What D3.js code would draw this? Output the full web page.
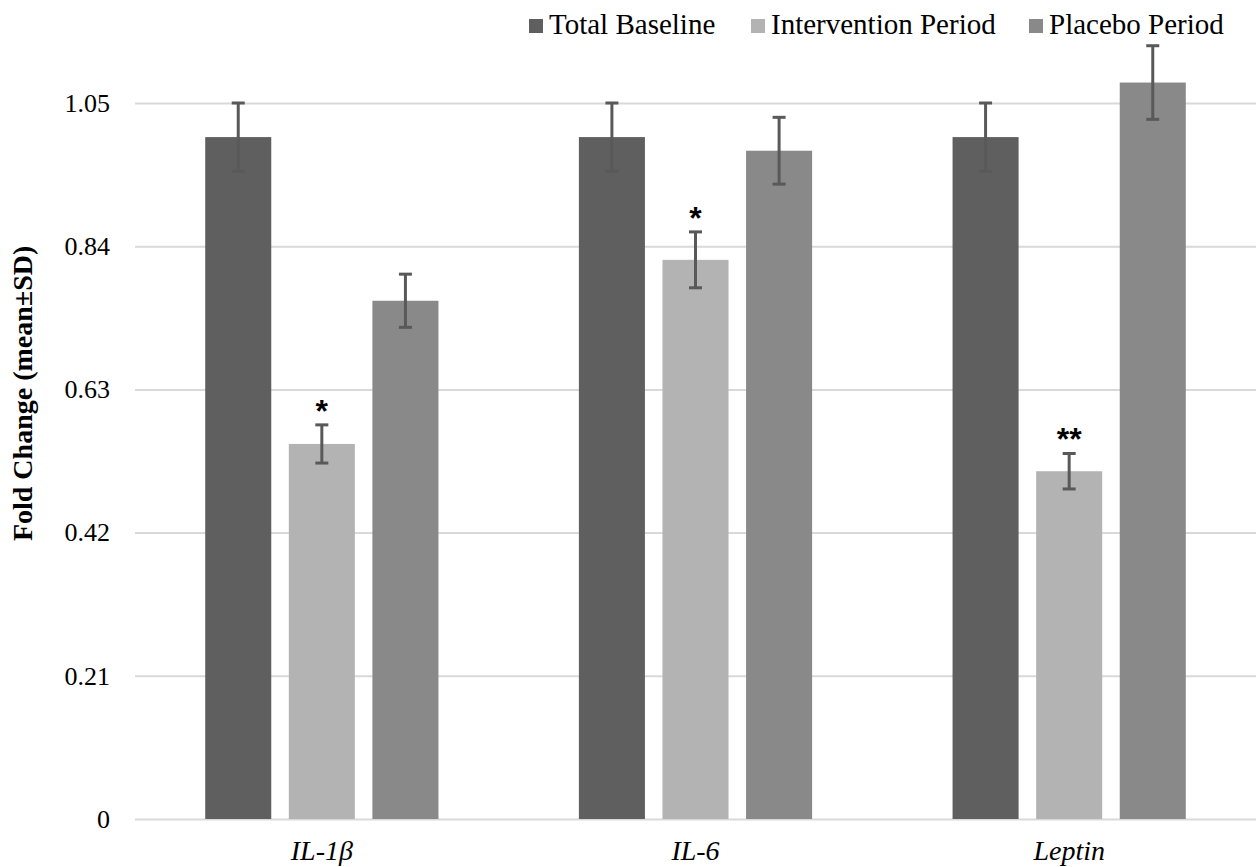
<!DOCTYPE html>
<html>
<head>
<meta charset="utf-8">
<script src="https://cdn.jsdelivr.net/npm/d3@7"></script>
<style>
  body { margin: 0; background: #fff; }
  svg text { font-family: "Liberation Serif", "Times New Roman", Times, "DejaVu Serif", serif; }
</style>
</head>
<body>
<script>
const categories = ['IL-1β', 'IL-6', 'Leptin'];
const seriesNames = ['Total Baseline', 'Intervention Period', 'Placebo Period'];
const baselineMean = [1.0, 1.0, 1.0];
const baselineSd = [0.05, 0.05, 0.05];
const interventionMean = [0.55, 0.82, 0.51];
const interventionSd = [0.028, 0.041, 0.026];
const placeboMean = [0.76, 0.98, 1.08];
const placeboSd = [0.039, 0.049, 0.054];
const significance = [['', '*', ''], ['', '*', ''], ['', '**', '']];
const yTicks = [0, 0.21, 0.42, 0.63, 0.84, 1.05];

const colors = ['#5f5f5f', '#b3b3b3', '#898989'];
const serif = '"Liberation Serif", "Times New Roman", Times, "DejaVu Serif", serif';

const width = 1256, height = 867;
const margin = { top: 103, right: 0, bottom: 48, left: 135 };

const rows = categories.map((c, i) => ({
    category: c,
    values: [
        { series: 0, mean: baselineMean[i], sd: baselineSd[i], mark: significance[i][0] },
        { series: 1, mean: interventionMean[i], sd: interventionSd[i], mark: significance[i][1] },
        { series: 2, mean: placeboMean[i], sd: placeboSd[i], mark: significance[i][2] }
    ]
}));

const svg = d3.select('body').append('svg')
    .attr('width', width)
    .attr('height', height)
    .attr('font-family', serif);

const x0 = d3.scaleBand()
    .domain(categories)
    .range([margin.left, width - margin.right]);

const x1 = d3.scaleBand()
    .domain([0, 1, 2])
    .range([0, x0.bandwidth()])
    .paddingInner(0.21)
    .paddingOuter(0.84);

const y = d3.scaleLinear()
    .domain([0, 1.05])
    .range([height - margin.bottom, margin.top]);

// gridlines + tick labels
const yAxis = d3.axisLeft(y)
    .tickValues(yTicks)
    .tickSize(-(width - margin.left - margin.right))
    .tickPadding(25)
    .tickFormat(d => d === 0 ? '0' : d3.format('.2f')(d));

const axisG = svg.append('g')
    .attr('transform', `translate(${margin.left},0)`)
    .call(yAxis)
    .attr('font-family', serif)
    .attr('font-size', 26);
axisG.select('.domain').remove();
axisG.selectAll('.tick line').attr('stroke', '#d9d9d9').attr('stroke-width', 2);
axisG.selectAll('.tick text').attr('fill', '#000');

// bars
const groups = svg.selectAll('.group')
    .data(rows)
    .enter().append('g')
    .attr('class', 'group')
    .attr('transform', d => `translate(${x0(d.category)},0)`);

groups.selectAll('rect')
    .data(d => d.values)
    .enter().append('rect')
    .attr('x', d => x1(d.series))
    .attr('y', d => y(d.mean))
    .attr('width', x1.bandwidth())
    .attr('height', d => y(0) - y(d.mean))
    .attr('fill', d => colors[d.series]);

// error bars
const errColor = '#595959';
const capW = 13;
const err = groups.selectAll('.err')
    .data(d => d.values)
    .enter().append('g')
    .attr('class', 'err')
    .attr('stroke', errColor)
    .attr('stroke-width', 3);

err.append('line')
    .attr('x1', d => x1(d.series) + x1.bandwidth() / 2)
    .attr('x2', d => x1(d.series) + x1.bandwidth() / 2)
    .attr('y1', d => y(d.mean + d.sd))
    .attr('y2', d => y(d.mean - d.sd));
err.append('line')
    .attr('x1', d => x1(d.series) + x1.bandwidth() / 2 - capW / 2)
    .attr('x2', d => x1(d.series) + x1.bandwidth() / 2 + capW / 2)
    .attr('y1', d => y(d.mean + d.sd))
    .attr('y2', d => y(d.mean + d.sd));
err.append('line')
    .attr('x1', d => x1(d.series) + x1.bandwidth() / 2 - capW / 2)
    .attr('x2', d => x1(d.series) + x1.bandwidth() / 2 + capW / 2)
    .attr('y1', d => y(d.mean - d.sd))
    .attr('y2', d => y(d.mean - d.sd));

// significance stars
groups.selectAll('.star')
    .data(d => d.values.filter(v => v.mark))
    .enter().append('text')
    .attr('class', 'star')
    .attr('x', d => x1(d.series) + x1.bandwidth() / 2)
    .attr('y', d => y(d.mean + d.sd) - 3)
    .attr('text-anchor', 'middle')
    .style('font-family', '"Liberation Sans", Arial, sans-serif')
    .style('font-weight', 'bold')
    .style('font-size', '32px')
    .text(d => d.mark);

// category labels
svg.selectAll('.cat')
    .data(categories)
    .enter().append('text')
    .attr('class', 'cat')
    .attr('x', d => x0(d) + x0.bandwidth() / 2)
    .attr('y', height - 7)
    .attr('text-anchor', 'middle')
    .style('font-style', 'italic')
    .style('font-size', '28px')
    .text(d => d);

// y title
svg.append('text')
    .attr('transform', `translate(32,${(y(0.42) + y(0.84)) / 2 + 4}) rotate(-90)`)
    .attr('text-anchor', 'middle')
    .style('font-weight', 'bold')
    .style('font-size', '28px')
    .text('Fold Change (mean±SD)');

// legend
const legendX = [529, 751, 1029];
const legend = svg.selectAll('.legend')
    .data(seriesNames)
    .enter().append('g')
    .attr('class', 'legend')
    .attr('transform', (d, i) => `translate(${legendX[i]},0)`);
legend.append('rect')
    .attr('x', 0).attr('y', 19)
    .attr('width', 14).attr('height', 14)
    .attr('fill', (d, i) => colors[i]);
legend.append('text')
    .attr('x', 20).attr('y', 34)
    .style('font-size', '29px')
    .text(d => d);
</script>
</body>
</html>
